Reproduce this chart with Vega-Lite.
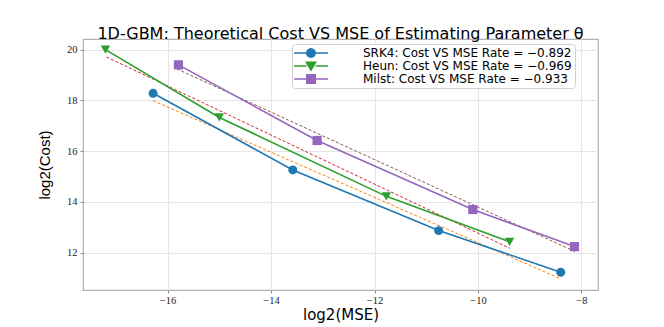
{
  "$schema": "https://vega.github.io/schema/vega-lite/v6.json",
  "width": 515,
  "height": 251,
  "autosize": "none",
  "padding": {"left": 83, "top": 39, "right": 66, "bottom": 37},
  "background": "white",
  "title": {
    "text": "1D-GBM: Theoretical Cost VS MSE of Estimating Parameter θ",
    "font": "DejaVu Sans",
    "fontSize": 16,
    "fontWeight": "normal",
    "color": "#000000",
    "offset": -3,
    "anchor": "middle"
  },
  "datasets": {
    "pts": [
      {"series": "SRK4: Cost VS MSE Rate = −0.892", "x": -16.28, "y": 18.28},
      {"series": "SRK4: Cost VS MSE Rate = −0.892", "x": -13.58, "y": 15.26},
      {"series": "SRK4: Cost VS MSE Rate = −0.892", "x": -10.76, "y": 12.87},
      {"series": "SRK4: Cost VS MSE Rate = −0.892", "x": -8.40, "y": 11.23},
      {"series": "Heun: Cost VS MSE Rate = −0.969", "x": -17.20, "y": 20.0},
      {"series": "Heun: Cost VS MSE Rate = −0.969", "x": -15.0, "y": 17.33},
      {"series": "Heun: Cost VS MSE Rate = −0.969", "x": -11.77, "y": 14.22},
      {"series": "Heun: Cost VS MSE Rate = −0.969", "x": -9.39, "y": 12.43},
      {"series": "Milst: Cost VS MSE Rate = −0.933", "x": -15.79, "y": 19.40},
      {"series": "Milst: Cost VS MSE Rate = −0.933", "x": -13.11, "y": 16.42},
      {"series": "Milst: Cost VS MSE Rate = −0.933", "x": -10.10, "y": 13.70},
      {"series": "Milst: Cost VS MSE Rate = −0.933", "x": -8.135, "y": 12.24}
    ],
    "fits": [
      {"fit": "SRK4", "x": -16.28, "y": 17.99},
      {"fit": "SRK4", "x": -8.40, "y": 10.97},
      {"fit": "Heun", "x": -17.18, "y": 19.71},
      {"fit": "Heun", "x": -9.38, "y": 12.17},
      {"fit": "Milst", "x": -15.82, "y": 19.24},
      {"fit": "Milst", "x": -8.12, "y": 12.04}
    ]
  },
  "encoding": {
    "x": {
      "field": "x", "type": "quantitative",
      "scale": {"domain": [-17.635, -7.68], "nice": false, "zero": false},
      "axis": {"title": "log2(MSE)", "values": [-16, -14, -12, -10, -8], "format": "d"}
    },
    "y": {
      "field": "y", "type": "quantitative",
      "scale": {"domain": [10.53, 20.42], "nice": false, "zero": false},
      "axis": {"title": "log2(Cost)", "values": [12, 14, 16, 18, 20], "format": "d"}
    }
  },
  "layer": [
    {
      "data": {"name": "fits"},
      "mark": {"type": "line", "strokeDash": [3, 2], "strokeWidth": 1},
      "encoding": {
        "stroke": {
          "field": "fit", "type": "nominal",
          "scale": {"domain": ["SRK4", "Heun", "Milst"], "range": ["#ff7f0e", "#d62728", "#8c564b"]},
          "legend": null
        }
      }
    },
    {
      "data": {"name": "pts"},
      "mark": {"type": "line", "strokeWidth": 1.6},
      "encoding": {
        "color": {
          "field": "series", "type": "nominal",
          "scale": {
            "domain": ["SRK4: Cost VS MSE Rate = −0.892", "Heun: Cost VS MSE Rate = −0.969", "Milst: Cost VS MSE Rate = −0.933"],
            "range": ["#1f77b4", "#2ca02c", "#9467bd"]
          },
          "title": null
        }
      }
    },
    {
      "data": {"name": "pts"},
      "transform": [{"filter": {"field": "series", "equal": "SRK4: Cost VS MSE Rate = −0.892"}}],
      "mark": {"type": "point", "shape": "circle", "filled": true, "opacity": 1, "size": 80},
      "encoding": {"color": {"field": "series", "type": "nominal", "title": null}}
    },
    {
      "data": {"name": "pts"},
      "transform": [{"filter": {"field": "series", "equal": "Heun: Cost VS MSE Rate = −0.969"}}],
      "mark": {"type": "point", "shape": "triangle-down", "filled": true, "opacity": 1, "size": 90},
      "encoding": {"color": {"field": "series", "type": "nominal", "title": null}}
    },
    {
      "data": {"name": "pts"},
      "transform": [{"filter": {"field": "series", "equal": "Milst: Cost VS MSE Rate = −0.933"}}],
      "mark": {"type": "point", "shape": "square", "filled": true, "opacity": 1, "size": 85},
      "encoding": {"color": {"field": "series", "type": "nominal", "title": null}}
    },
    {
      "data": {"name": "pts"},
      "transform": [{"filter": "datum.x > 1000"}],
      "mark": {"type": "point", "filled": true, "opacity": 1},
      "encoding": {
        "color": {"field": "series", "type": "nominal", "title": null},
        "shape": {
          "field": "series", "type": "nominal", "title": null,
          "scale": {
            "domain": ["SRK4: Cost VS MSE Rate = −0.892", "Heun: Cost VS MSE Rate = −0.969", "Milst: Cost VS MSE Rate = −0.933"],
            "range": [
              "M-3.4,-0.15L-0.9,-0.15L-0.9,0.15L-3.4,0.15ZM0.9,-0.15L3.4,-0.15L3.4,0.15L0.9,0.15ZM1,0L0.924,0.383L0.707,0.707L0.383,0.924L0,1L-0.383,0.924L-0.707,0.707L-0.924,0.383L-1,0L-0.924,-0.383L-0.707,-0.707L-0.383,-0.924L0,-1L0.383,-0.924L0.707,-0.707L0.924,-0.383Z",
              "M-3.4,-0.15L-0.9,-0.15L-0.9,0.15L-3.4,0.15ZM0.9,-0.15L3.4,-0.15L3.4,0.15L0.9,0.15ZM-1.2,-0.9L1.2,-0.9L0,1.1Z",
              "M-3.4,-0.15L-0.9,-0.15L-0.9,0.15L-3.4,0.15ZM0.9,-0.15L3.4,-0.15L3.4,0.15L0.9,0.15ZM-1,-1L1,-1L1,1L-1,1Z"
            ]
          },
          "legend": {
            "labelAlign": "left",
            "gridAlign": "all",
            "encode": {"labels": {"update": {"align": {"value": "left"}}}}
          }
        }
      }
    }
  ],
  "config": {
    "view": {"stroke": "#b0b0b0", "strokeWidth": 1.2},
    "axis": {
      "domain": false,
      "grid": true,
      "gridColor": "#e5e5e5",
      "gridWidth": 1,
      "tickColor": "#888888",
      "tickSize": 3,
      "labelFont": "Liberation Serif",
      "labelFontSize": 10.5,
      "labelColor": "#222222",
      "titleFont": "DejaVu Sans",
      "titleFontSize": 15,
      "titleFontWeight": "normal",
      "titleColor": "#000000"
    },
    "axisX": {"labelPadding": 2, "titleY": 29, "titleBaseline": "alphabetic"},
    "axisY": {"labelPadding": 3, "titlePadding": 14, "titleFont": "Liberation Sans", "titleFontSize": 15},
    "legend": {
      "orient": "none",
      "legendX": 209,
      "legendY": 5,
      "labelFont": "DejaVu Sans",
      "labelFontSize": 12,
      "labelColor": "#000000",
      "labelAlign": "left",
      "labelLimit": 400,
      "symbolSize": 100,
      "symbolOpacity": 1,
      "symbolOffset": 10,
      "symbolStrokeWidth": 0,
      "rowPadding": 1,
      "labelOffset": 46,
      "padding": 3,
      "strokeColor": "#d0d0d0",
      "fillColor": "white",
      "cornerRadius": 3
    }
  }
}
